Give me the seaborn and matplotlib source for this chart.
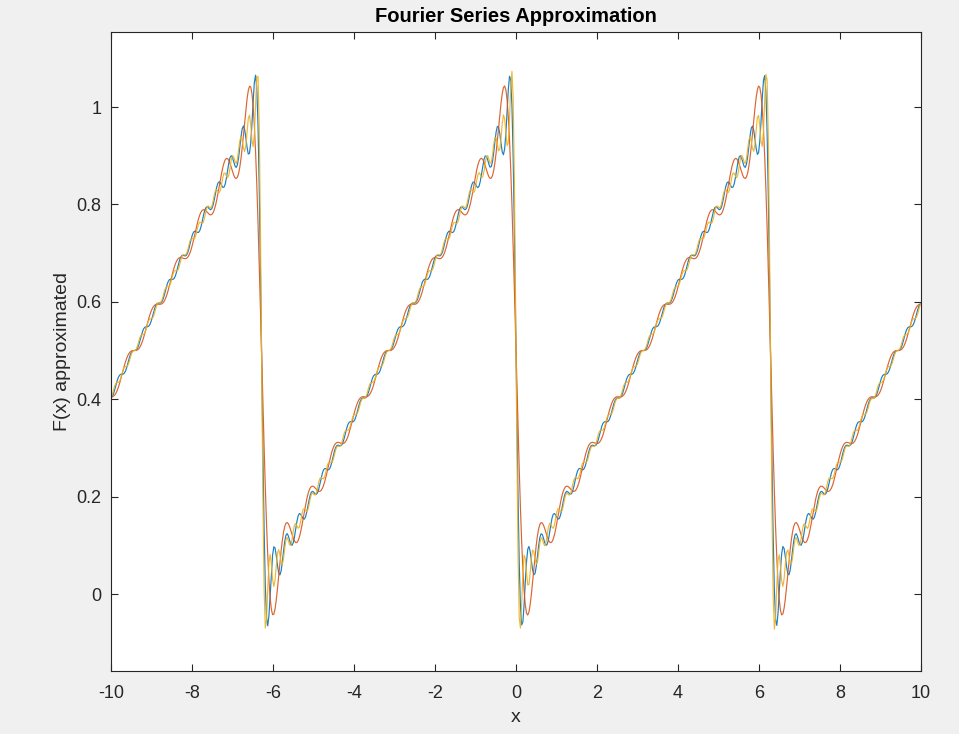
import numpy as np
import pandas as pd
import matplotlib
matplotlib.use("Agg")
import matplotlib.pyplot as plt
import seaborn as sns

# Data: number of Fourier terms for each plotted approximation (in plot order)
n_terms = [20, 10, 30]
series_colors = ["#0072BD", "#D95319", "#EDB120"]
x_min, x_max, x_step = -10.0, 10.0, 0.03
x_ticks = [-10, -8, -6, -4, -2, 0, 2, 4, 6, 8, 10]
y_ticks = [0, 0.2, 0.4, 0.6, 0.8, 1]
y_tick_labels = ["0", "0.2", "0.4", "0.6", "0.8", "1"]
title_text = "Fourier Series Approximation"
x_label = "x"
y_label = "F(x) approximated"

x = np.arange(x_min, x_max + x_step / 2, x_step)
frames = []
for N in n_terms:
    n = np.arange(1, N + 1)
    # partial sum of the sawtooth f(x) = (x mod 2pi) / (2pi)
    y = 0.5 - (np.sin(np.outer(x, n)) / n).sum(axis=1) / np.pi
    frames.append(pd.DataFrame({"x": x, "y": y, "N": str(N)}))
df = pd.concat(frames, ignore_index=True)

sns.set_theme(style="white")
plt.rcParams["font.family"] = ["Liberation Sans", "DejaVu Sans"]

fig = plt.figure(figsize=(9.59, 7.34), dpi=100, facecolor="#F0F0F0")
ax = fig.add_axes([111 / 959, 1 - 671 / 734, 810 / 959, 639 / 734])
ax.set_facecolor("white")

sns.lineplot(data=df, x="x", y="y", hue="N", palette=series_colors,
             hue_order=[str(n) for n in n_terms], linewidth=0.85, alpha=0.9,
             legend=False, ax=ax, estimator=None, sort=False)

ax.set_xlim(x_min, x_max)
ax.set_ylim(-0.158, 1.154)
ax.set_xticks(x_ticks)
ax.set_xticklabels([str(t) for t in x_ticks])
ax.set_yticks(y_ticks)
ax.set_yticklabels(y_tick_labels)
ax.tick_params(direction="in", length=5, width=0.8, colors="#262626",
               labelsize=13, top=True, right=True, bottom=True, left=True,
               labelcolor="#262626")
ax.tick_params(axis="x", pad=10)
ax.tick_params(axis="y", pad=7)
for s in ax.spines.values():
    s.set_visible(True)
    s.set_color("#262626")
    s.set_linewidth(0.8)

ax.set_xlabel(x_label, fontsize=14, color="#262626", labelpad=5)
ax.set_ylabel(y_label, fontsize=14, color="#262626", labelpad=4)
ax.set_title(title_text, fontsize=14.5, fontweight="bold", color="black", pad=7)

fig.savefig("out.png", dpi=100, facecolor=fig.get_facecolor())
